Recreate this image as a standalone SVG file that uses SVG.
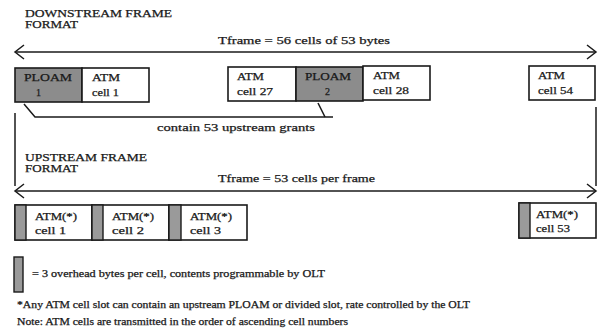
<svg xmlns="http://www.w3.org/2000/svg" width="601" height="334" viewBox="0 0 601 334">
<style>
text{font-family:"Liberation Serif","Times New Roman",serif;fill:#1a1a1a;stroke:#1a1a1a;stroke-width:0.25;}
.t{font-size:10.5px;}
.b{font-size:10px;}
.n{font-size:9.5px;}
.box{fill:#fff;stroke:#1a1a1a;stroke-width:1.6;}
.g{fill:#8c8c8c;stroke:#1a1a1a;stroke-width:1.6;}
.s{fill:#9a9a9a;stroke:#1a1a1a;stroke-width:1.4;}
.ln{fill:none;stroke:#1a1a1a;stroke-width:1.5;}
</style>
<defs>
<marker id="ah" markerWidth="14" markerHeight="18" refX="11" refY="8" orient="auto-start-reverse" markerUnits="userSpaceOnUse" viewBox="0 0 14 18">
<path d="M2,1 L11,8 L2,15" fill="none" stroke="#1a1a1a" stroke-width="1.5"/>
</marker>
</defs>
<rect width="601" height="334" fill="#fff"/>

<g id="downstream-title">
<text class="t" x="25" y="16.5" textLength="147" lengthAdjust="spacingAndGlyphs">DOWNSTREAM FRAME</text>
<text class="t" x="25" y="28" textLength="53" lengthAdjust="spacingAndGlyphs">FORMAT</text>
</g>

<g id="connectors">
<line class="ln" x1="15" y1="52" x2="596" y2="52" marker-start="url(#ah)" marker-end="url(#ah)"/>
<text class="t" x="218" y="44" textLength="172" lengthAdjust="spacingAndGlyphs">Tframe = 56 cells of 53 bytes</text>
<polyline class="ln" points="24,104 35,117 333,117"/>
<line class="ln" x1="318" y1="103" x2="325" y2="117"/>
<text class="t" x="157" y="131" textLength="158" lengthAdjust="spacingAndGlyphs">contain 53 upstream grants</text>
<line class="ln" x1="15" y1="113" x2="15" y2="186"/>
<line class="ln" x1="596" y1="107" x2="596" y2="186"/>
<line class="ln" x1="15" y1="191" x2="596" y2="191" marker-start="url(#ah)" marker-end="url(#ah)"/>
<text class="t" x="218" y="182" textLength="157" lengthAdjust="spacingAndGlyphs">Tframe = 53 cells per frame</text>
</g>

<g id="ploam1">
<rect class="g" x="15" y="68" width="67" height="34"/>
<text class="b" x="24" y="81" textLength="48" lengthAdjust="spacingAndGlyphs">PLOAM</text>
<text class="b" x="36" y="96">1</text>
</g>
<g id="atm-cell1">
<rect class="box" x="82" y="68" width="67" height="34"/>
<text class="b" x="92" y="81" textLength="28" lengthAdjust="spacingAndGlyphs">ATM</text>
<text class="b" x="92" y="96" textLength="27" lengthAdjust="spacingAndGlyphs">cell 1</text>
</g>
<g id="atm-cell27">
<rect class="box" x="228" y="67" width="68" height="34"/>
<text class="b" x="237" y="80" textLength="27" lengthAdjust="spacingAndGlyphs">ATM</text>
<text class="b" x="237" y="95" textLength="36" lengthAdjust="spacingAndGlyphs">cell 27</text>
</g>
<g id="ploam2">
<rect class="g" x="296" y="67" width="67" height="34"/>
<text class="b" x="305" y="80" textLength="46" lengthAdjust="spacingAndGlyphs">PLOAM</text>
<text class="b" x="325" y="95">2</text>
</g>
<g id="atm-cell28">
<rect class="box" x="363" y="66" width="67" height="34"/>
<text class="b" x="373" y="79" textLength="27" lengthAdjust="spacingAndGlyphs">ATM</text>
<text class="b" x="373" y="94" textLength="36" lengthAdjust="spacingAndGlyphs">cell 28</text>
</g>
<g id="atm-cell54">
<rect class="box" x="529" y="66" width="66" height="34"/>
<text class="b" x="538" y="79" textLength="27" lengthAdjust="spacingAndGlyphs">ATM</text>
<text class="b" x="538" y="94" textLength="35" lengthAdjust="spacingAndGlyphs">cell 54</text>
</g>

<g id="upstream-title">
<text class="t" x="25" y="160.5" textLength="122" lengthAdjust="spacingAndGlyphs">UPSTREAM FRAME</text>
<text class="t" x="25" y="172" textLength="53" lengthAdjust="spacingAndGlyphs">FORMAT</text>
</g>

<g id="up-cell1">
<rect class="box" x="15" y="205" width="77" height="35"/>
<rect class="s" x="15" y="205" width="11" height="35"/>
<text class="b" x="35" y="220" textLength="42" lengthAdjust="spacingAndGlyphs">ATM(*)</text>
<text class="b" x="35" y="234" textLength="31" lengthAdjust="spacingAndGlyphs">cell 1</text>
</g>
<g id="up-cell2">
<rect class="box" x="92" y="205" width="77" height="35"/>
<rect class="s" x="92" y="205" width="11" height="35"/>
<text class="b" x="112" y="220" textLength="42" lengthAdjust="spacingAndGlyphs">ATM(*)</text>
<text class="b" x="112" y="234" textLength="32" lengthAdjust="spacingAndGlyphs">cell 2</text>
</g>
<g id="up-cell3">
<rect class="box" x="169" y="205" width="78" height="35"/>
<rect class="s" x="169" y="205" width="12" height="35"/>
<text class="b" x="190" y="220" textLength="42" lengthAdjust="spacingAndGlyphs">ATM(*)</text>
<text class="b" x="190" y="234" textLength="31" lengthAdjust="spacingAndGlyphs">cell 3</text>
</g>
<g id="up-cell53">
<rect class="box" x="519" y="203" width="77" height="35"/>
<rect class="s" x="519" y="203" width="11" height="35"/>
<text class="b" x="536" y="218" textLength="42" lengthAdjust="spacingAndGlyphs">ATM(*)</text>
<text class="b" x="536" y="232" textLength="34" lengthAdjust="spacingAndGlyphs">cell 53</text>
</g>

<g id="legend">
<rect class="s" x="14" y="257" width="9" height="35"/>
<text class="n" x="32" y="276.5" textLength="293" lengthAdjust="spacingAndGlyphs">= 3 overhead bytes per cell, contents programmable by OLT</text>
</g>
<g id="notes">
<text class="n" x="17" y="308" textLength="453" lengthAdjust="spacingAndGlyphs">*Any ATM cell slot can contain an upstream PLOAM or divided slot, rate controlled by the OLT</text>
<text class="n" x="17" y="325" textLength="331" lengthAdjust="spacingAndGlyphs">Note: ATM cells are transmitted in the order of ascending cell numbers</text>
</g>
</svg>
